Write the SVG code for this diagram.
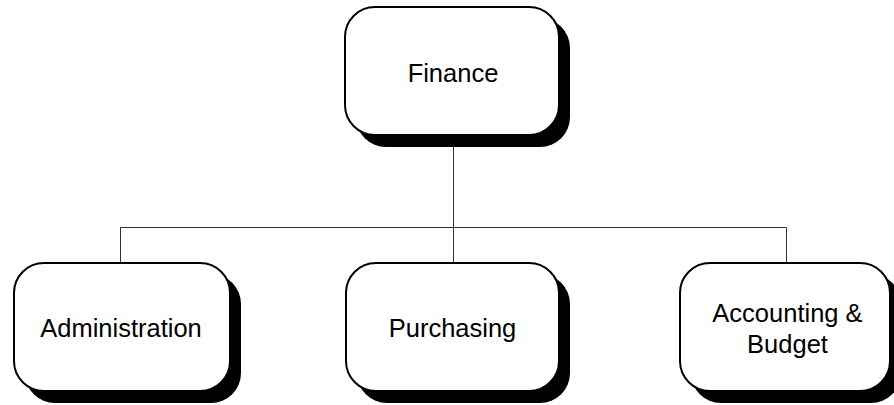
<svg xmlns="http://www.w3.org/2000/svg" width="894" height="405" viewBox="0 0 894 405">
<style>
.shadow{fill:#000;stroke:none}
.box{fill:#fff;stroke:#000;stroke-width:2}
.lbl{font-family:"Liberation Sans",Arial,sans-serif;font-size:25.5px;fill:#000;text-anchor:middle}
.conn{fill:none;stroke:#333;stroke-width:1}
</style>
<rect width="894" height="405" fill="#fff"/>
<g id="connectors">
<path class="conn" d="M453.5 146V263.5M120.5 263V227.5H786.5V263"/>
</g>
<g id="finance">
<rect class="shadow" x="356" y="18" width="214" height="129" rx="30"/>
<rect class="box" x="345" y="7" width="214" height="128" rx="30"/>
<text class="lbl" x="453" y="82">Finance</text>
</g>
<g id="administration">
<rect class="shadow" x="25" y="274" width="216" height="129" rx="30"/>
<rect class="box" x="14" y="263" width="216" height="128" rx="30"/>
<text class="lbl" x="121" y="337">Administration</text>
</g>
<g id="purchasing">
<rect class="shadow" x="357" y="274" width="213" height="129" rx="30"/>
<rect class="box" x="346" y="263" width="213" height="128" rx="30"/>
<text class="lbl" x="452.5" y="337">Purchasing</text>
</g>
<g id="accounting">
<rect class="shadow" x="691" y="274" width="210" height="129" rx="30"/>
<rect class="box" x="680" y="263" width="210" height="128" rx="30"/>
<text class="lbl" x="787.5" y="321.5">Accounting &amp;</text>
<text class="lbl" x="787.5" y="353">Budget</text>
</g>
</svg>
